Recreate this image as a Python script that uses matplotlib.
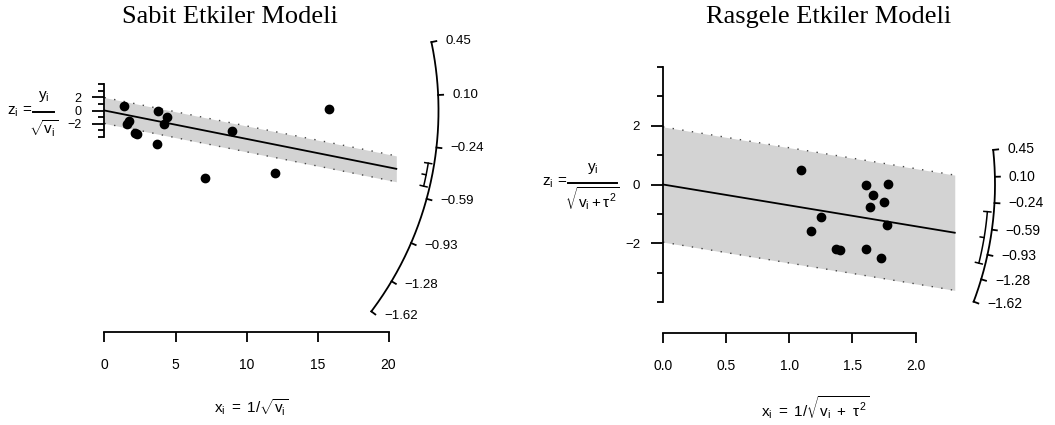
import numpy as np
import matplotlib.pyplot as plt
from matplotlib.lines import Line2D

plt.rcParams['font.family'] = ['Liberation Sans', 'DejaVu Sans']
plt.rcParams['mathtext.fontset'] = 'custom'
plt.rcParams['mathtext.rm'] = 'Liberation Sans'
plt.rcParams['mathtext.it'] = 'Liberation Sans'
plt.rcParams['mathtext.bf'] = 'Liberation Sans:bold'
plt.rcParams['axes.unicode_minus'] = True

W, H = 1055, 425

# Sabit etkiler modeli: x = 1/sqrt(v), z = y/sqrt(v)
fe_x = [1.75, 2.27, 1.55, 7.07, 4.42, 12.04, 2.12, 15.81, 4.21, 3.70, 8.98, 1.37, 3.74]
fe_z = [-1.56, -3.59, -2.09, -10.19, -0.96, -9.46, -3.43, 0.19, -1.98, -5.08, -3.05, 0.61, -0.06]
fe_est = -0.43
fe_ci = (-0.51, -0.35)

# Rasgele etkiler modeli: x = 1/sqrt(v + tau^2), z = y/sqrt(v + tau^2)
re_x = [1.25, 1.40, 1.17, 1.73, 1.66, 1.77, 1.37, 1.78, 1.64, 1.61, 1.75, 1.09, 1.61]
re_z = [-1.11, -2.23, -1.58, -2.50, -0.36, -1.39, -2.21, 0.02, -0.77, -2.21, -0.59, 0.48, -0.03]
re_est = -0.71
re_ci = (-1.07, -0.36)

arc_ticks = [0.45, 0.10, -0.24, -0.59, -0.93, -1.28, -1.62]

fe_xticks = [0, 5, 10, 15, 20]
fe_xlabels = ["0", "5", "10", "15", "20"]
re_xticks = [0, 0.5, 1.0, 1.5, 2.0]
re_xlabels = ["0.0", "0.5", "1.0", "1.5", "2.0"]

fig = plt.figure(figsize=(W / 100, H / 100), dpi=100)


def radial_panel(left, right, x0, sx, y0, sy, xs, zs, est, ci, xmax,
                 xticks, xlabels, axis_py, R, Rci, arc_fs, ytick_fs):
    # x0, y0: pixel position of the origin, sx, sy: pixels per unit
    ax = fig.add_axes([left / W, 0, (right - left) / W, 1])
    ax.set_xlim((left - x0) / sx, (right - x0) / sx)
    ax.set_ylim((y0 - H) / sy, y0 / sy)
    ax.patch.set_alpha(0)

    # band +-1.96 around the fitted line
    xe = np.array([0, xmax])
    ax.fill_between(xe, est * xe - 1.96, est * xe + 1.96, color='#d3d3d3', lw=0, zorder=1)
    for s in (-1.96, 1.96):
        ax.plot(xe, est * xe + s, color='#444444', lw=1, ls=(0, (1, 6)), zorder=2)
    ax.plot(xe, est * xe, color='black', lw=1.3, zorder=3)
    ax.plot(xs, zs, 'o', color='black', ms=6, zorder=4)

    # arc for the effect size scale
    def arc(beta, r):
        th = np.arctan(np.asarray(beta) * sy / sx)
        return r * np.cos(th) / sx, r * np.sin(th) / sy, th

    bb = np.linspace(arc_ticks[0], arc_ticks[-1], 200)
    ax_, ay_, _ = arc(bb, R)
    ax.plot(ax_, ay_, color='black', lw=1.3)
    for b in arc_ticks:
        x1, y1, th = arc(b, R)
        x2, y2, _ = arc(b, R + 5)
        ax.plot([x1, x2], [y1, y2], color='black', lw=1.3)
        xl, yl, _ = arc(b, R + 7)
        ax.text(xl + 7 / sx, yl, f"{b:.2f}".replace('-', '\u2212'), ha='left',
                va='center', fontsize=arc_fs)

    # CI bracket
    cb = np.linspace(ci[0], ci[1], 50)
    cx, cy, _ = arc(cb, Rci)
    ax.plot(cx, cy, color='black', lw=1.1)
    for b, r0, r1 in ((ci[0], Rci - 3.5, Rci + 3.5), (ci[1], Rci - 3.5, Rci + 3.5),
                      (est, Rci - 4, Rci)):
        x1, y1, _ = arc(b, r0)
        x2, y2, _ = arc(b, r1)
        ax.plot([x1, x2], [y1, y2], color='black', lw=1.1)

    # axes
    for sp in ('top', 'right'):
        ax.spines[sp].set_visible(False)
    ax.spines['left'].set_position(('data', 0))
    ax.spines['left'].set_bounds(-4, 4)
    ax.spines['bottom'].set_position(('data', (y0 - axis_py) / sy))
    ax.spines['bottom'].set_bounds(xticks[0], xticks[-1])
    for sp in ('left', 'bottom'):
        ax.spines[sp].set_linewidth(1.3)
    ax.set_yticks([-2, 0, 2])
    ax.set_yticklabels(["\u22122", "0", "2"])
    ax.set_yticks([-4, -3, -1, 1, 3, 4], minor=True)
    ax.tick_params(axis='y', which='major', length=8.5, width=1.3, pad=8, labelsize=ytick_fs)
    ax.tick_params(axis='y', which='minor', length=4.3, width=1.3)
    ax.set_xticks(xticks)
    ax.set_xticklabels(xlabels)
    ax.tick_params(axis='x', which='major', length=7, width=1.3, pad=12, labelsize=10)
    return ax


axl = radial_panel(0, 527, 104.5, 14.2, 110.5, 6.6, fe_x, fe_z, fe_est, fe_ci, 20.55,
                   fe_xticks, fe_xlabels, 331.7, 334, 328, 9.5, 9)
axr = radial_panel(527, 1055, 663, 126.3, 184.5, 29.4, re_x, re_z, re_est, re_ci, 2.31,
                   re_xticks, re_xlabels, 333, 332, 325.5, 10, 9.5)


def fig_xy(px, py):
    return px / W, 1 - py / H


def frac_label(bar_x0, bar_x1, bar_y, num_dy, den_dy, num, den):
    # z_i = num / den, built piece by piece like R's plotmath
    fig.text(*fig_xy(bar_x0 - 1, bar_y), r'$z_i\,=$', ha='right', va='center', fontsize=11)
    fig.add_artist(Line2D([bar_x0 / W, bar_x1 / W], [1 - bar_y / H] * 2, color='black', lw=1.4))
    cx = (bar_x0 + bar_x1) / 2
    fig.text(*fig_xy(cx, bar_y - num_dy), num, ha='center', va='center', fontsize=11)
    fig.text(*fig_xy(cx, bar_y + den_dy), den, ha='center', va='center', fontsize=11)


frac_label(33, 54, 112, 16, 17, r'$y_i$', r'$\sqrt{v_i}$')
frac_label(568, 617, 183, 15, 16, r'$y_i$', r'$\sqrt{v_i + \tau^2}$')

# x labels
fig.text(251 / W, 1 - 408 / H, r'$x_i\ =\ 1/\sqrt{v_i}$', ha='center', va='center', fontsize=11)
fig.text(815 / W, 1 - 408 / H, r'$x_i\ =\ 1/\sqrt{v_i\ +\ \tau^2}$', ha='center', va='center',
         fontsize=11)

# titles
fig.text(230 / W, 1 - 23 / H, "Sabit Etkiler Modeli", ha='center', va='baseline',
         fontsize=19, family='Liberation Serif')
fig.text(829 / W, 1 - 23 / H, "Rasgele Etkiler Modeli", ha='center', va='baseline',
         fontsize=19, family='Liberation Serif')

fig.savefig('out.png', dpi=100)
